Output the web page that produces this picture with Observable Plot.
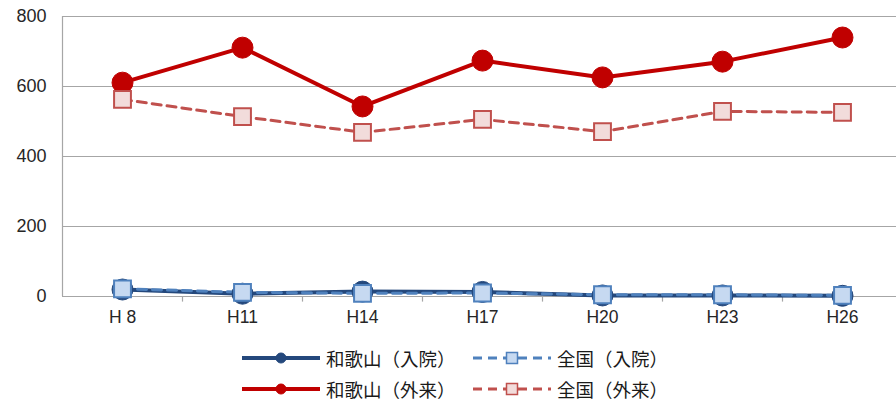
<!DOCTYPE html>
<html>
<head>
<meta charset="utf-8">
<script src="https://cdn.jsdelivr.net/npm/d3@7"></script>
<script src="https://cdn.jsdelivr.net/npm/@observablehq/plot@0.6"></script>
<style>
  body { margin: 0; background: #fff; font-family: "Liberation Sans", "Noto Sans CJK JP", sans-serif; }
  #wrap { width: 896px; height: 401px; position: relative; overflow: hidden; }
  #legend { position: absolute; left: 0; top: 330px; width: 896px; height: 71px; }
  .item { position: absolute; display: flex; align-items: center; height: 20px; line-height: 20px; font-family: "Noto Sans CJK JP", sans-serif; font-size: 18.5px; color: #1a1a1a; white-space: nowrap; }
  .item svg { margin-right: 6px; }
</style>
</head>
<body>
<div id="wrap">
  <div id="chart"></div>
  <div id="legend"></div>
</div>
<script>
const categories = ["H 8", "H11", "H14", "H17", "H20", "H23", "H26"];
const wakayamaInpatient = [20, 8, 14, 13, 3, 3, 2];
const nationalInpatient = [22, 12, 9, 10, 5, 5, 3];
const wakayamaOutpatient = [611, 711, 543, 674, 626, 671, 740];
const nationalOutpatient = [563, 514, 469, 506, 471, 529, 526];
const yTicks = [0, 200, 400, 600, 800];
const seriesNames = ["和歌山（入院）", "全国（入院）", "和歌山（外来）", "全国（外来）"];

const toRows = arr => arr.map((v, i) => ({idx: i + 0.5, cat: categories[i], v}));

const styles = [
  {data: toRows(wakayamaInpatient), stroke: "#24487c", width: 4, dash: null, symbol: "circle", fill: "#24487c", r: 10.5},
  {data: toRows(nationalInpatient), stroke: "#4f81bd", width: 3, dash: "9,6", symbol: "square", fill: "#c6d9f1", r: 9.5},
  {data: toRows(wakayamaOutpatient), stroke: "#c00000", width: 4, dash: null, symbol: "circle", fill: "#c00000", r: 10.5},
  {data: toRows(nationalOutpatient), stroke: "#c0504d", width: 3, dash: "9,6", symbol: "square", fill: "#f2dcdb", r: 9.5}
];

const marks = [
  Plot.ruleY(yTicks, {y: d => d, stroke: "#a6a6a6", strokeWidth: 1.2}),
  Plot.ruleX([0], {x: d => d, stroke: "#a6a6a6", strokeWidth: 1.2}),
  Plot.ruleX(d3.range(1, 8), {x: d => d, y1: 0, y2: -16, stroke: "#a6a6a6", strokeWidth: 1.2}),
  Plot.text(yTicks, {x: 0, y: d => d, dx: -16, textAnchor: "end", text: d => String(d), fontSize: 18, fill: "#262626"}),
  Plot.text(categories, {x: (d, i) => i + 0.5, y: 0, dy: 21, text: d => d, fontSize: 17.5, fill: "#262626", style: "letter-spacing:2px"})
];
for (const s of styles) {
  marks.push(Plot.line(s.data, {x: "idx", y: "v", stroke: s.stroke, strokeWidth: s.width, strokeDasharray: s.dash, strokeLinejoin: "round"}));
}
for (const s of styles) {
  marks.push(Plot.dot(s.data, {x: "idx", y: "v", symbol: s.symbol, r: s.r, fill: s.fill, stroke: s.stroke, strokeWidth: s.symbol === "square" ? 2 : 1}));
}

const chart = Plot.plot({
  width: 896,
  height: 330,
  marginLeft: 62,
  marginRight: 0,
  marginTop: 16,
  marginBottom: 34,
  style: {fontFamily: "Liberation Sans, sans-serif", background: "#fff", overflow: "visible"},
  x: {type: "linear", domain: [0, 7], range: [62, 902], axis: null},
  y: {type: "linear", domain: [0, 800], range: [296, 16], axis: null},
  marks
});
document.getElementById("chart").appendChild(chart);

// Legend
const legend = document.getElementById("legend");
const pos = [
  {left: 242, top: 18}, {left: 473, top: 18},
  {left: 242, top: 49}, {left: 473, top: 49}
];
styles.forEach((s, i) => {
  const div = document.createElement("div");
  div.className = "item";
  div.style.left = pos[i].left + "px";
  div.style.top = pos[i].top + "px";
  const w = 78;
  let marker;
  if (s.symbol === "circle") {
    marker = `<circle cx="${w/2}" cy="10" r="5" fill="${s.fill}" stroke="${s.stroke}"/>`;
  } else {
    marker = `<rect x="${w/2-5.5}" y="4.5" width="11" height="11" fill="${s.fill}" stroke="${s.stroke}" stroke-width="1.5"/>`;
  }
  div.innerHTML = `<svg width="${w}" height="20"><line x1="0" x2="${w}" y1="10" y2="10" stroke="${s.stroke}" stroke-width="${s.width}" ${s.dash ? `stroke-dasharray="${s.dash}"` : ""}/>${marker}</svg><span>${seriesNames[i]}</span>`;
  legend.appendChild(div);
});
</script>
</body>
</html>
